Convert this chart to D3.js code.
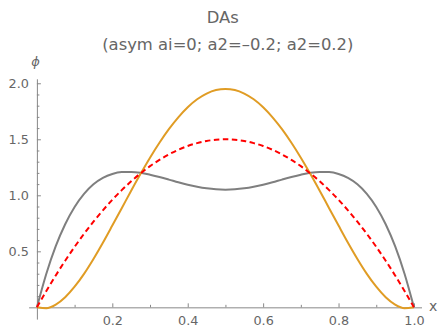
<!DOCTYPE html>
<html>
<head>
<meta charset="utf-8">
<script src="https://cdn.jsdelivr.net/npm/d3@7"></script>
<style>
  html, body { margin: 0; padding: 0; background: #fff; }
  text { font-family: "DejaVu Sans", sans-serif; fill: #666; }
</style>
</head>
<body>
<svg id="chart" width="440" height="327"></svg>
<script>
// sample points
const xValues = [0, 0.025, 0.05, 0.075, 0.1, 0.125, 0.15, 0.175, 0.2, 0.225, 0.25, 0.275, 0.3, 0.325, 0.35, 0.375, 0.4, 0.425, 0.45, 0.475, 0.5,
  0.525, 0.55, 0.575, 0.6, 0.625, 0.65, 0.675, 0.7, 0.725, 0.75, 0.775, 0.8, 0.825, 0.85, 0.875, 0.9, 0.925, 0.95, 0.975, 1];
const asymValues = [0, 0.146, 0.285, 0.416, 0.54, 0.656, 0.765, 0.866, 0.96, 1.046, 1.125, 1.196, 1.26, 1.316, 1.365, 1.406, 1.44, 1.466, 1.485, 1.496, 1.5,
  1.496, 1.485, 1.466, 1.44, 1.406, 1.365, 1.316, 1.26, 1.196, 1.125, 1.046, 0.96, 0.866, 0.765, 0.656, 0.54, 0.416, 0.285, 0.146, 0];
const a2NegValues = [0, -0.008, 0.024, 0.09, 0.184, 0.299, 0.432, 0.577, 0.73, 0.885, 1.041, 1.192, 1.336, 1.469, 1.59, 1.696, 1.786, 1.857, 1.908, 1.94, 1.95,
  1.94, 1.908, 1.857, 1.786, 1.696, 1.59, 1.469, 1.336, 1.192, 1.041, 0.885, 0.73, 0.577, 0.432, 0.299, 0.184, 0.09, 0.024, -0.008, 0];
const a2PosValues = [0, 0.3, 0.546, 0.742, 0.896, 1.013, 1.098, 1.155, 1.19, 1.207, 1.209, 1.201, 1.184, 1.163, 1.14, 1.116, 1.094, 1.076, 1.062, 1.053, 1.05,
  1.053, 1.062, 1.076, 1.094, 1.116, 1.14, 1.163, 1.184, 1.201, 1.209, 1.207, 1.19, 1.155, 1.098, 1.013, 0.896, 0.742, 0.546, 0.3, 0];

const xMajorTicks = [0.2, 0.4, 0.6, 0.8, 1.0];
const xMinorTicks = [0.1, 0.3, 0.5, 0.7, 0.9];
const yMajorTicks = [0.5, 1.0, 1.5, 2.0];
const yMinorTicks = [0.1, 0.2, 0.3, 0.4, 0.6, 0.7, 0.8, 0.9, 1.1, 1.2, 1.3, 1.4, 1.6, 1.7, 1.8, 1.9];

const titleLines = ['DAs', '(asym ai=0; a2=\u20130.2; a2=0.2)'];

const svg = d3.select('#chart');

const x = d3.scaleLinear().domain([-0.022, 1.02]).range([28.6, 421.5]);
const y = d3.scaleLinear().domain([-0.105, 2.04]).range([319.1, 78.8]);

const axisColor = '#888';

// x axis at y=0
const xAxisG = svg.append('g').attr('transform', 'translate(0,' + y(0) + ')');
xAxisG.call(d3.axisBottom(x).tickValues(xMajorTicks).tickSize(-4).tickSizeOuter(0)
  .tickPadding(8.5).tickFormat(d3.format('.1f')));
xAxisG.append('g').call(d3.axisBottom(x).tickValues(xMinorTicks).tickSize(-2.5).tickSizeOuter(0).tickFormat(''))
  .select('.domain').remove();

// y axis at x=0
const yAxisG = svg.append('g').attr('transform', 'translate(' + x(0) + ',0)');
yAxisG.call(d3.axisLeft(y).tickValues(yMajorTicks).tickSize(-4).tickSizeOuter(0)
  .tickPadding(8).tickFormat(d3.format('.1f')));
yAxisG.append('g').call(d3.axisLeft(y).tickValues(yMinorTicks).tickSize(-2.5).tickSizeOuter(0).tickFormat(''))
  .select('.domain').remove();

svg.selectAll('.domain, .tick line').attr('stroke', axisColor).attr('stroke-width', 1);
svg.selectAll('.tick text').attr('font-size', 12.8).attr('fill', '#666')
  .attr('font-family', '"DejaVu Sans", sans-serif');

// curves
const series = [
  { values: a2PosValues, color: '#7f7f7f', dash: null },
  { values: a2NegValues, color: '#e09c24', dash: null },
  { values: asymValues, color: '#ff0000', dash: '5.5,3.5' }
];

const line = d3.line()
  .x(function (d, i) { return x(xValues[i]); })
  .y(function (d) { return y(d); })
  .curve(d3.curveMonotoneX);

series.forEach(function (s) {
  svg.append('path')
    .datum(s.values)
    .attr('d', line)
    .attr('fill', 'none')
    .attr('stroke', s.color)
    .attr('stroke-width', 2)
    .attr('stroke-dasharray', s.dash);
});

// title
svg.append('text').attr('x', 222.8).attr('y', 22.5).attr('text-anchor', 'middle')
  .attr('font-size', 16.4).text(titleLines[0]);
svg.append('text').attr('x', 227.8).attr('y', 49.5).attr('text-anchor', 'middle')
  .attr('font-size', 16.4).text(titleLines[1]);

// axis labels
svg.append('text').attr('x', 35.5).attr('y', 66).attr('text-anchor', 'middle')
  .attr('font-size', 13).attr('font-style', 'italic').text('\u03d5');
svg.append('text').attr('x', 429).attr('y', 311).attr('font-size', 14).text('x');
</script>
</body>
</html>
